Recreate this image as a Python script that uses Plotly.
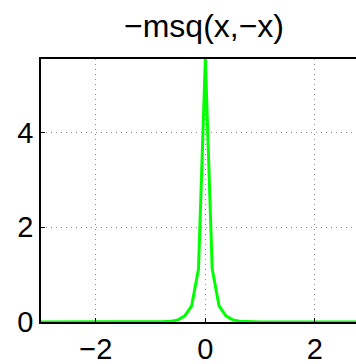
import numpy as np
import plotly.graph_objects as go

# Data
x_vals = [-3.0, -2.875, -2.75, -2.625, -2.5, -2.375, -2.25, -2.125, -2.0,
          -1.875, -1.75, -1.625, -1.5, -1.375, -1.25, -1.125, -1.0,
          -0.875, -0.75, -0.625, -0.5, -0.375, -0.25, -0.125, 0.0,
          0.125, 0.25, 0.375, 0.5, 0.625, 0.75, 0.875, 1.0,
          1.125, 1.25, 1.375, 1.5, 1.625, 1.75, 1.875, 2.0,
          2.125, 2.25, 2.375, 2.5, 2.625, 2.75, 2.875, 3.0]
y_vals = [0, 0, 0, 0, 0, 0, 0, 0, 0,
          0, 0, 0, 0, 0, 0, 0, 0.001,
          0.003, 0.008, 0.018, 0.045, 0.13, 0.34, 1.12, 5.55,
          1.12, 0.34, 0.13, 0.045, 0.018, 0.008, 0.003, 0.001,
          0, 0, 0, 0, 0, 0, 0, 0,
          0, 0, 0, 0, 0, 0, 0, 0]
x_ticks = [-2, 0, 2]
x_ticklabels = ["\u22122", "0", "2"]
y_ticks = [0, 2, 4]
y_ticklabels = ["0", "2", "4"]
title_text = "\u2212msq(x,\u2212x)"

FONT = "Liberation Sans, Arial, Helvetica, sans-serif"

fig = go.Figure()
fig.add_trace(go.Scatter(x=x_vals, y=y_vals, mode="lines",
                         line=dict(color="#00ff00", width=3),
                         showlegend=False, cliponaxis=True))

axis_common = dict(
    showline=True, linecolor="black", linewidth=1.5, mirror=True,
    ticks="inside", ticklen=4, tickcolor="black", tickwidth=1,
    showgrid=True, gridcolor="#888888", griddash="1px,4px", gridwidth=1,
    zeroline=False, automargin=False,
    tickfont=dict(family=FONT, size=29, color="black"),
)

fig.update_layout(
    width=356, height=364,
    margin=dict(l=41, r=0, t=59, b=42),
    paper_bgcolor="white", plot_bgcolor="white",
    xaxis=dict(range=[-3, 2.75], tickvals=x_ticks, ticktext=x_ticklabels,
               ticklabelstandoff=0, **axis_common),
    yaxis=dict(range=[0, 5.55], tickvals=y_ticks, ticktext=y_ticklabels,
               ticklabelstandoff=0, **axis_common),
    title=dict(text=title_text, x=204 / 356, xanchor="center", xref="container",
               y=1 - 26 / 364, yanchor="middle", yref="container",
               font=dict(family=FONT, size=32, color="black")),
)

fig.write_html("out.html", config={"displayModeBar": False},
               post_script="document.body.style.margin='0';document.body.style.padding='0';")
